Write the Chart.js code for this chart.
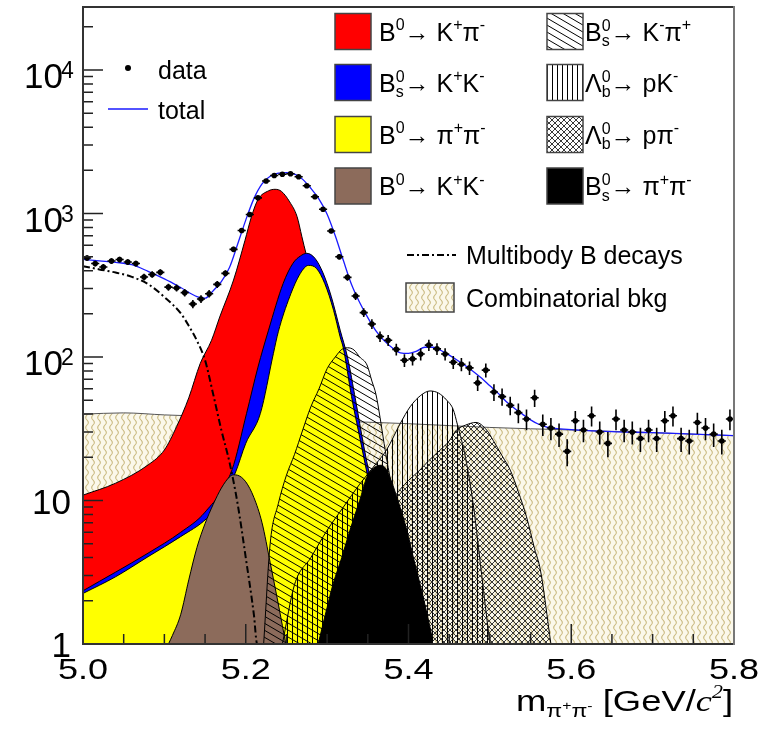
<!DOCTYPE html>
<html>
<head>
<meta charset="utf-8">
<script src="https://cdn.jsdelivr.net/npm/chart.js@4.4.1/dist/chart.umd.min.js"></script>
<style>
  html, body { margin: 0; padding: 0; background: #fff; }
  #wrap { width: 764px; height: 730px; }
  canvas { display: block; }
</style>
</head>
<body>
<div id="wrap"><canvas id="massPlot" width="764" height="730"></canvas></div>
<script>
// ---------------- measured spectrum (10 MeV bins) ----------------
const binCentres = Array.from({ length: 80 }, (_, i) => +(5.005 + 0.01 * i).toFixed(3));
const binHalfWidth = 0.005;
const candidates = [
  490, 448, 424, 467, 478, 459, 448, 361, 376, 389,
  307, 303, 281, 234, 254, 276, 321, 383, 563, 762,
  985, 1286, 1684, 1843, 1878, 1893, 1804, 1563, 1310, 1072,
  755, 500, 359, 266, 204, 170, 139, 131, 113, 95,
  97, 105, 121, 114, 105, 92, 89, 84, 66, 81,
  57, 53, 46, 41, 37, 52, 34, 32, 29, 22,
  36, 31, 39, 30, 25, 37, 31, 30, 27, 31,
  27, 36, 39, 27, 26, 35, 32, 29, 26, 37
];

// ---------------- fit model components ----------------
const totalMass = [5.00, 5.02, 5.04, 5.06, 5.08, 5.10, 5.12, 5.14,
  5.15, 5.16, 5.17, 5.18, 5.19, 5.20, 5.21, 5.22, 5.23, 5.24,
  5.25, 5.26, 5.27, 5.28, 5.29, 5.30, 5.31, 5.32, 5.33, 5.34,
  5.35, 5.36, 5.37, 5.38, 5.39, 5.40, 5.41, 5.42, 5.43, 5.44,
  5.45, 5.46, 5.47, 5.48, 5.49, 5.50, 5.51, 5.52, 5.53, 5.54,
  5.55, 5.56, 5.57, 5.58, 5.60, 5.65, 5.70, 5.75, 5.80];
const totalFit = [480, 468, 457, 440, 395, 350, 305, 264,
  257, 290, 335, 420, 610, 900, 1270, 1610, 1820, 1910,
  1925, 1880, 1730, 1500, 1260, 990, 700, 470, 320, 240,
  188, 152, 130, 116, 107, 106, 110, 117, 117, 111,
  103, 95, 87, 79, 71, 63, 56, 49, 44, 40,
  36.5, 34, 32.5, 31.8, 31.2, 30.2, 29.7, 29, 28.3];

const multibodyMass = [5.00, 5.02, 5.04, 5.06, 5.08, 5.10, 5.12, 5.13, 5.14, 5.15, 5.16, 5.17, 5.18, 5.19, 5.20, 5.21, 5.214, 5.80];
const multibodyFit  = [430, 408, 388, 362, 322, 262, 202, 165, 130, 95, 55, 31, 18.5, 9.5, 4.0, 1.6, 1.0, 1.0];

const combMass = [5.00, 5.05, 5.10, 5.20, 5.30, 5.40, 5.50, 5.60, 5.70, 5.80];
const combFit  = [40, 40.8, 39.5, 37.8, 36, 34.3, 32.3, 31, 29.7, 28.3];

const b0KpiMass = [5.00, 5.04, 5.08, 5.10, 5.115, 5.13, 5.144, 5.158, 5.168, 5.185, 5.199, 5.207, 5.215,
  5.228, 5.236, 5.244, 5.254, 5.263, 5.269, 5.274, 5.28, 5.29, 5.30, 5.31, 5.32, 5.33, 5.34, 5.35];
const b0KpiFit  = [10.9, 13.2, 17.7, 22.5, 32.7, 52, 90, 131, 190, 344, 648, 950, 1250,
  1440, 1475, 1425, 1205, 954, 689, 528, 400, 240, 120, 55, 22, 8, 2.8, 0.9];

const bsKKMass = [5.00, 5.08, 5.12, 5.15, 5.183, 5.201, 5.215, 5.228, 5.246, 5.258, 5.267, 5.275,
  5.285, 5.295, 5.305, 5.316, 5.325, 5.335, 5.345, 5.36, 5.38, 5.40];
const bsKKFit  = [2.35, 4.3, 6.0, 8.3, 16.3, 40.5, 85, 154, 326, 450, 505, 528,
  488, 385, 265, 154, 100, 50, 24, 9, 2.2, 0.6];

const b0PipiMass = [5.00, 5.04, 5.08, 5.12, 5.152, 5.17, 5.187, 5.20, 5.218, 5.234, 5.24, 5.254, 5.267,
  5.277, 5.287, 5.297, 5.308, 5.316, 5.32, 5.33, 5.3425, 5.349, 5.36, 5.37, 5.38, 5.39];
const b0PipiFit  = [2.25, 2.94, 4.06, 5.6, 7.5, 10, 15.5, 25, 40.5, 106, 150, 263, 382,
  435, 414, 326, 211, 138, 115, 53, 23.6, 15.5, 7.5, 3.5, 1.6, 0.7];

const b0KKMass = [5.105, 5.11, 5.12, 5.13, 5.14, 5.15, 5.16, 5.17, 5.18, 5.185, 5.19, 5.20, 5.21, 5.22, 5.23, 5.24, 5.25];
const b0KKFit  = [1, 1.15, 1.6, 2.8, 4.7, 6.9, 9.4, 12.2, 14.6, 15.1, 15, 13.5, 10.5, 7, 3.7, 1.9, 0.95];

const bsKpiMass = [5.222, 5.23, 5.24, 5.25, 5.26, 5.27, 5.28, 5.29, 5.30, 5.31, 5.318, 5.325, 5.333,
  5.34, 5.349, 5.355, 5.36, 5.365, 5.37, 5.375, 5.38, 5.39, 5.40, 5.42];
const bsKpiFit  = [1, 5, 9.5, 15, 21, 31, 45, 60, 83, 100, 113, 116, 112,
  100, 88, 68, 55, 38, 25, 17, 12, 6, 2.8, 0.7];

const lbPKMass = [5.245, 5.26, 5.28, 5.30, 5.32, 5.34, 5.36, 5.373, 5.39, 5.402, 5.415, 5.4265,
  5.437, 5.447, 5.455, 5.46, 5.47, 5.48, 5.49, 5.50];
const lbPKFit  = [1, 2.6, 4, 6.2, 9, 13, 18, 22.5, 34.5, 45, 54, 58,
  56, 50, 43, 34, 20, 9, 3, 1];

const lbPPiMass = [5.29, 5.30, 5.32, 5.34, 5.36, 5.38, 5.39, 5.40, 5.414, 5.425, 5.439, 5.45, 5.459,
  5.47, 5.483, 5.496, 5.504, 5.515, 5.525, 5.535, 5.545, 5.555, 5.562, 5.575];
const lbPPiFit  = [1, 1.3, 2.4, 3.8, 6, 10, 12, 13.8, 16.3, 19, 22.5, 26, 31,
  33.5, 35, 31, 26.3, 20.5, 16.3, 11.5, 7.7, 4.6, 3.3, 1];

const bsPipiMass = [5.289, 5.30, 5.3075, 5.318, 5.328, 5.34, 5.349, 5.357, 5.365, 5.371, 5.377,
  5.387, 5.398, 5.406, 5.414, 5.422, 5.43];
const bsPipiFit  = [1, 1.8, 2.64, 4, 6.2, 10, 14.6, 16.8, 17.6, 17, 14.6,
  10, 6.2, 4, 2.64, 1.7, 1.05];

// ---------------- axes ----------------
const xRange = [5.0, 5.8];
const yRange = [1, 27500];
const xTickValues = [5.0, 5.2, 5.4, 5.6, 5.8];
const xTickLabels = ['5.0', '5.2', '5.4', '5.6', '5.8'];
const xMinorStep = 0.05;
const yTickValues = [1, 10, 100, 1000, 10000];
const yTickBase = ['1', '10', '10', '10', '10'];
const yTickPower = ['', '', '2', '3', '4'];

// ---------------- drawing helpers ----------------
const FONT = '"Liberation Sans", Arial, Helvetica, sans-serif';
const SERIF = '"Liberation Serif", "Times New Roman", serif';

function pts(xs, ys) { return xs.map((x, i) => ({ x, y: ys[i] })); }

function makePattern(w, h, paint) {
  const c = document.createElement('canvas');
  c.width = w; c.height = h;
  const g = c.getContext('2d');
  paint(g, w, h);
  return g.createPattern(c, 'repeat');
}

const backslashHatch = makePattern(12, 7, (g, w, h) => {
  g.strokeStyle = '#000'; g.lineWidth = 1;
  for (const o of [-h, 0, h]) { g.beginPath(); g.moveTo(0, o); g.lineTo(w, o + h); g.stroke(); }
});
const verticalHatch = makePattern(5, 4, (g) => {
  g.fillStyle = '#000'; g.fillRect(2, 0, 1, 4);
});
const crossHatch = makePattern(6, 6, (g, w, h) => {
  g.strokeStyle = '#222'; g.lineWidth = 0.9;
  for (const o of [-w, 0, w]) {
    g.beginPath(); g.moveTo(o, 0); g.lineTo(o + w, h); g.stroke();
    g.beginPath(); g.moveTo(o, h); g.lineTo(o + w, 0); g.stroke();
  }
});
const wavyFill = makePattern(6, 10, (g, w, h) => {
  g.fillStyle = '#fbf8ea'; g.fillRect(0, 0, w, h);
  g.strokeStyle = '#c9ba80'; g.lineWidth = 1.1;
  g.beginPath();
  for (let yy = -1; yy <= h + 1; yy += 0.5) {
    const xx = 3 + 1.3 * Math.sin(yy / h * 2 * Math.PI);
    if (yy === -1) g.moveTo(xx, yy); else g.lineTo(xx, yy);
  }
  g.stroke();
});

function area(label, xs, ys, bg, order, border) {
  return {
    label, data: pts(xs, ys), backgroundColor: bg,
    borderColor: border || '#000', borderWidth: 1, fill: 'start',
    pointRadius: 0, cubicInterpolationMode: 'monotone', order
  };
}

// text runs with super/subscripts; returns advance width
function runs(ctx, x, y, list, size, draw) {
  let cx = x;
  for (const r of list) {
    if (r.stack) {
      ctx.font = `${Math.round(size * 0.62)}px ${FONT}`;
      const w = Math.max(ctx.measureText(r.stack[0]).width, ctx.measureText(r.stack[1]).width);
      if (draw) {
        ctx.fillText(r.stack[0], cx, y - size * 0.40);
        ctx.fillText(r.stack[1], cx, y + size * 0.22);
      }
      cx += w;
    } else {
      const s = size * (r.k || 1);
      ctx.font = `${r.it ? 'italic ' : ''}${Math.round(s)}px ${r.f || FONT}`;
      if (draw) ctx.fillText(r.t, cx, y + (r.dy || 0) * size);
      cx += ctx.measureText(r.t).width;
    }
  }
  return cx - x;
}
const T = (t) => ({ t });
const SUP = (t) => ({ t, k: 0.62, dy: -0.42 });
const SS = (a, b) => ({ stack: [a, b] });

const legendRows = [
  { col: 0, row: 0, fill: '#ff0000', parts: [T('B'), SUP('0'), T('→ K'), SUP('+'), T('π'), SUP('-')] },
  { col: 0, row: 1, fill: '#0000ff', parts: [T('B'), SS('0', 's'), T('→ K'), SUP('+'), T('K'), SUP('-')] },
  { col: 0, row: 2, fill: '#ffff00', parts: [T('B'), SUP('0'), T('→ π'), SUP('+'), T('π'), SUP('-')] },
  { col: 0, row: 3, fill: '#8c6b5b', parts: [T('B'), SUP('0'), T('→ K'), SUP('+'), T('K'), SUP('-')] },
  { col: 1, row: 0, fill: backslashHatch, parts: [T('B'), SS('0', 's'), T('→ K'), SUP('-'), T('π'), SUP('+')] },
  { col: 1, row: 1, fill: verticalHatch, parts: [T('Λ'), SS('0', 'b'), T('→ pK'), SUP('-')] },
  { col: 1, row: 2, fill: crossHatch, parts: [T('Λ'), SS('0', 'b'), T('→ pπ'), SUP('-')] },
  { col: 1, row: 3, fill: '#000000', parts: [T('B'), SS('0', 's'), T('→ π'), SUP('+'), T('π'), SUP('-')] }
];

function drawErrorBars(chart) {
  const { ctx, chartArea: a, scales: { x, y } } = chart;
  ctx.save();
  ctx.beginPath(); ctx.rect(a.left, a.top, a.right - a.left, a.bottom - a.top); ctx.clip();
  ctx.strokeStyle = '#000'; ctx.lineWidth = 1.6;
  ctx.beginPath();
  binCentres.forEach((m, i) => {
    const n = candidates[i], e = Math.sqrt(n);
    const px = x.getPixelForValue(m), py = y.getPixelForValue(n);
    ctx.moveTo(px, y.getPixelForValue(n + e));
    ctx.lineTo(px, y.getPixelForValue(Math.max(n - e, 0.5)));
    ctx.moveTo(x.getPixelForValue(m - binHalfWidth), py);
    ctx.lineTo(x.getPixelForValue(m + binHalfWidth), py);
  });
  ctx.stroke();
  ctx.restore();
}

function drawFrame(chart) {
  const { ctx, chartArea: a, scales: { x, y } } = chart;
  ctx.save();
  ctx.strokeStyle = '#222'; ctx.lineWidth = 1.5;
  ctx.beginPath();
  for (const d of yTickValues) {
    for (let k = 1; k <= 9; k++) {
      const v = d * k;
      if (v > yRange[1]) break;
      const py = y.getPixelForValue(v);
      ctx.moveTo(a.left, py); ctx.lineTo(a.left + (k === 1 ? 20 : 10), py);
    }
  }
  const nMinor = Math.round((xRange[1] - xRange[0]) / xMinorStep);
  for (let j = 0; j <= nMinor; j++) {
    const v = xRange[0] + j * xMinorStep;
    const major = xTickValues.some(t => Math.abs(t - v) < 1e-6);
    const px = x.getPixelForValue(v);
    ctx.moveTo(px, a.bottom); ctx.lineTo(px, a.bottom - (major ? 20 : 10));
  }
  ctx.stroke();
  ctx.lineWidth = 2;
  ctx.strokeStyle = '#333';
  ctx.beginPath();
  ctx.moveTo(a.right, a.top); ctx.lineTo(a.left, a.top); ctx.lineTo(a.left, a.bottom); ctx.lineTo(a.right, a.bottom);
  ctx.stroke();
  ctx.strokeStyle = '#777';
  ctx.beginPath(); ctx.moveTo(a.right, a.top - 1); ctx.lineTo(a.right, a.bottom + 1); ctx.stroke();
  ctx.restore();
}

function drawLabels(chart) {
  const { ctx, chartArea: a, scales: { x, y } } = chart;
  ctx.save();
  ctx.fillStyle = '#000';
  ctx.textBaseline = 'alphabetic';
  // y tick labels
  yTickValues.forEach((v, i) => {
    const py = y.getPixelForValue(v);
    if (yTickPower[i]) {
      ctx.font = `35px ${FONT}`; ctx.textAlign = 'right';
      ctx.fillText(yTickBase[i], 63, py + 18);
      ctx.font = `23px ${FONT}`; ctx.textAlign = 'left';
      ctx.fillText(yTickPower[i], 61, py + 8);
    } else {
      ctx.font = `35px ${FONT}`; ctx.textAlign = 'right';
      ctx.fillText(yTickBase[i], 71, py + 13);
    }
  });
  // x tick labels
  ctx.textAlign = 'center';
  ctx.font = `30px ${FONT}`;
  xTickValues.forEach((v, i) => {
    ctx.save();
    ctx.translate(x.getPixelForValue(v), a.bottom + 35);
    ctx.scale(1.2, 1);
    ctx.fillText(xTickLabels[i], 0, 0);
    ctx.restore();
  });
  // axis title
  ctx.textAlign = 'left';
  const title = [
    T('m'),
    { t: 'π', k: 0.62, dy: 0.2 }, { t: '+', k: 0.42, dy: -0.02 },
    { t: 'π', k: 0.62, dy: 0.2 }, { t: '-', k: 0.42, dy: -0.02 },
    T(' [GeV/'), { t: 'c', it: true, f: SERIF }, { t: '2', k: 0.6, dy: -0.42, it: true, f: SERIF }, T(']')
  ];
  const tw = runs(ctx, 0, 0, title, 30, false);
  const titleRight = a.right - 1, titleWidth = 217;
  ctx.save();
  ctx.translate(titleRight - titleWidth, a.bottom + 67);
  ctx.scale(titleWidth / tw, 1);
  runs(ctx, 0, 0, title, 30, true);
  ctx.restore();
  ctx.restore();
}

function drawLegend(chart) {
  const { ctx } = chart;
  ctx.save();
  ctx.fillStyle = '#000'; ctx.textBaseline = 'alphabetic'; ctx.textAlign = 'left';
  const size = 25;
  const rowY = [31.5, 82.5, 134.5, 186];
  const boxX = [335, 547], textX = [379, 585];
  for (const r of legendRows) {
    const cy = rowY[r.row], bx = boxX[r.col];
    ctx.fillStyle = '#fff'; ctx.fillRect(bx, cy - 18, 36, 36);
    ctx.fillStyle = r.fill; ctx.fillRect(bx, cy - 18, 36, 36);
    ctx.strokeStyle = '#444'; ctx.lineWidth = 1.5; ctx.strokeRect(bx, cy - 18, 36, 36);
    ctx.fillStyle = '#000';
    runs(ctx, textX[r.col], cy + size * 0.36, r.parts, size, true);
  }
  // multibody
  ctx.strokeStyle = '#000'; ctx.lineWidth = 2; ctx.setLineDash([7, 3, 2, 3]);
  ctx.beginPath(); ctx.moveTo(407, 255); ctx.lineTo(456, 255); ctx.stroke();
  ctx.setLineDash([]);
  ctx.font = `${size}px ${FONT}`;
  ctx.fillText('Multibody B decays', 466, 255 + size * 0.36);
  // combinatorial
  ctx.fillStyle = wavyFill; ctx.fillRect(406, 283, 48, 29);
  ctx.strokeStyle = '#444'; ctx.lineWidth = 1.5; ctx.strokeRect(406, 283, 48, 29);
  ctx.fillStyle = '#000';
  ctx.fillText('Combinatorial bkg', 466, 297.5 + size * 0.36);
  // data / total
  ctx.beginPath(); ctx.arc(128, 68, 3, 0, Math.PI * 2); ctx.fill();
  ctx.fillText('data', 158, 70 + size * 0.36);
  ctx.strokeStyle = '#1a1aff'; ctx.lineWidth = 1.3;
  ctx.beginPath(); ctx.moveTo(108, 109); ctx.lineTo(148, 109); ctx.stroke();
  ctx.fillText('total', 158, 110 + size * 0.36);
  ctx.restore();
}

const decorations = {
  id: 'decorations',
  afterDatasetsDraw(chart) { drawErrorBars(chart); drawFrame(chart); },
  afterDraw(chart) { drawLabels(chart); drawLegend(chart); }
};

// ---------------- chart ----------------
new Chart(document.getElementById('massPlot'), {
  type: 'line',
  data: {
    datasets: [
      { label: 'data', data: pts(binCentres, candidates), showLine: false, pointRadius: 2.8,
        pointBackgroundColor: '#000', pointBorderWidth: 0, order: 1 },
      { label: 'total', data: pts(totalMass, totalFit), borderColor: '#1a1aff', borderWidth: 1.3,
        fill: false, pointRadius: 0, cubicInterpolationMode: 'monotone', order: 2 },
      { label: 'Multibody B decays', data: pts(multibodyMass, multibodyFit), borderColor: '#000',
        borderWidth: 2, borderDash: [7, 3, 2, 3], fill: false, pointRadius: 0,
        cubicInterpolationMode: 'monotone', order: 3 },
      area('Bs→π+π-', bsPipiMass, bsPipiFit, '#000000', 10),
      area('Λb→pπ-', lbPPiMass, lbPPiFit, crossHatch, 11),
      area('Λb→pK-', lbPKMass, lbPKFit, verticalHatch, 12),
      area('Bs→K-π+', bsKpiMass, bsKpiFit, backslashHatch, 13),
      area('B0→K+K-', b0KKMass, b0KKFit, '#8c6b5b', 14),
      area('B0→π+π-', b0PipiMass, b0PipiFit, '#ffff00', 15),
      area('Bs→K+K-', bsKKMass, bsKKFit, '#0000ff', 16),
      area('B0→K+π-', b0KpiMass, b0KpiFit, '#ff0000', 17),
      area('Combinatorial bkg', combMass, combFit, wavyFill, 18, '#555')
    ]
  },
  options: {
    responsive: false,
    animation: false,
    devicePixelRatio: 1,
    events: [],
    layout: { padding: { left: 83, top: 7, right: 30, bottom: 86 } },
    scales: {
      x: { type: 'linear', min: xRange[0], max: xRange[1], display: false },
      y: { type: 'logarithmic', min: yRange[0], max: yRange[1], display: false }
    },
    plugins: { legend: { display: false }, tooltip: { enabled: false } }
  },
  plugins: [decorations]
});
</script>
</body>
</html>
